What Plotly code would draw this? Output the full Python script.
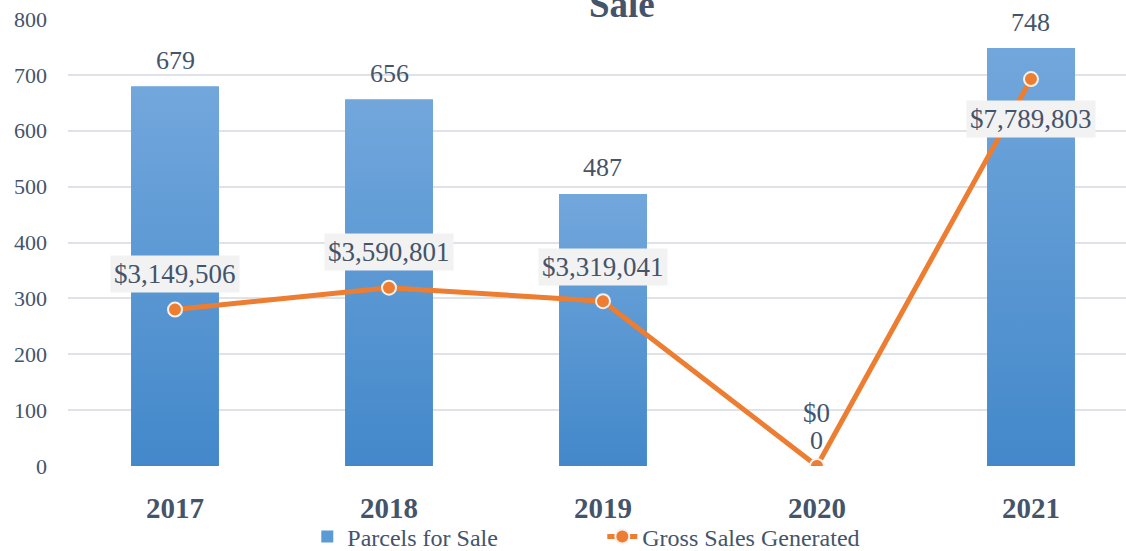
import plotly.graph_objects as go

# Data
years = ["2017", "2018", "2019", "2020", "2021"]
parcels = [679, 656, 487, 0, 748]
gross_sales = [3149506, 3590801, 3319041, 0, 7789803]
sales_label_shift = [36, 36, 34, 53, -40]   # label offset (px) from each point
sales_label_boxed = [True, True, True, False, True]

TEXT = "#44546a"
FONT = "Liberation Serif"
BAR_W = 0.41
xs = list(range(len(years)))

W, H = 1126, 551
TOP, BOTTOM = 19, 85          # plot area offsets (px)
plot_h = H - TOP              # paper height with zero bottom margin
y_dom = [BOTTOM / plot_h, 1]

fig = go.Figure()

# Bars (base colour, used by the legend)
fig.add_trace(go.Bar(
    x=xs, y=parcels, width=BAR_W, name="Parcels for Sale",
    marker=dict(color="#5b9bd5", line=dict(width=0)),
    hoverinfo="skip",
))

# Vertical gradient laid over each bar
for i, v in zip(xs, parcels):
    if v <= 0:
        continue
    fig.add_trace(go.Scatter(
        x=[i - BAR_W / 2, i + BAR_W / 2, i + BAR_W / 2, i - BAR_W / 2, i - BAR_W / 2],
        y=[0, 0, v, v, 0],
        mode="lines", fill="toself", line=dict(width=0),
        fillgradient=dict(type="vertical",
                          colorscale=[[0, "#4388ca"], [1, "#72a7dc"]]),
        showlegend=False, hoverinfo="skip",
    ))

# Gross sales line on the secondary axis
fig.add_trace(go.Scatter(
    x=xs, y=gross_sales, yaxis="y2", name="Gross Sales Generated",
    mode="lines+markers",
    line=dict(color="#ed7d31", width=5),
    marker=dict(size=14, color="#ed7d31", line=dict(color="#f2f2f2", width=2)),
    hoverinfo="skip",
))

annotations = []
# Bar value labels
for i, v in zip(xs, parcels):
    annotations.append(dict(
        x=i, y=v, xref="x", yref="y", text=str(v), showarrow=False,
        yshift=26, font=dict(family=FONT, size=26, color=TEXT),
    ))
# Sales value labels
for i, v, s, boxed in zip(xs, gross_sales, sales_label_shift, sales_label_boxed):
    annotations.append(dict(
        x=i, y=v, xref="x", yref="y2", text=f"${v:,.0f}", showarrow=False,
        yshift=s, font=dict(family=FONT, size=27, color=TEXT),
        bgcolor="#f2f2f2" if boxed else "rgba(0,0,0,0)", borderpad=3,
    ))
# Chart title (last line)
annotations.append(dict(
    x=0.524, y=1, xref="paper", yref="paper", text="<b>Sale</b>",
    showarrow=False, yanchor="bottom", yshift=-8,
    font=dict(family=FONT, size=37, color=TEXT),
))

fig.update_layout(
    width=W, height=H,
    margin=dict(l=68, r=0, t=TOP, b=0, autoexpand=False),
    paper_bgcolor="white", plot_bgcolor="white",
    font=dict(family=FONT, color=TEXT),
    showlegend=True,
    legend=dict(orientation="h", x=0.505, xanchor="center",
                y=(H - 537) / plot_h, yanchor="middle",
                entrywidth=250, entrywidthmode="pixels",
                font=dict(family=FONT, size=24, color=TEXT),
                bgcolor="rgba(0,0,0,0)"),
    xaxis=dict(range=[-0.5, 4.444], tickvals=xs, ticktext=[f"<b>{y}</b>" for y in years],
               showgrid=False, zeroline=False, showline=False, ticks="",
               tickfont=dict(family=FONT, size=29, color=TEXT),
               ticklabelstandoff=22),
    yaxis=dict(domain=y_dom, range=[0, 800], dtick=100, showgrid=True,
               gridcolor="#dfe3e9", gridwidth=2, zeroline=False, showline=False,
               ticks="", tickfont=dict(family=FONT, size=22, color=TEXT),
               ticklabelstandoff=20),
    yaxis2=dict(domain=y_dom, range=[0, 9000000], overlaying="y", side="right",
                visible=False, showgrid=False, zeroline=False),
    annotations=annotations,
)

fig.write_html("out.html")
